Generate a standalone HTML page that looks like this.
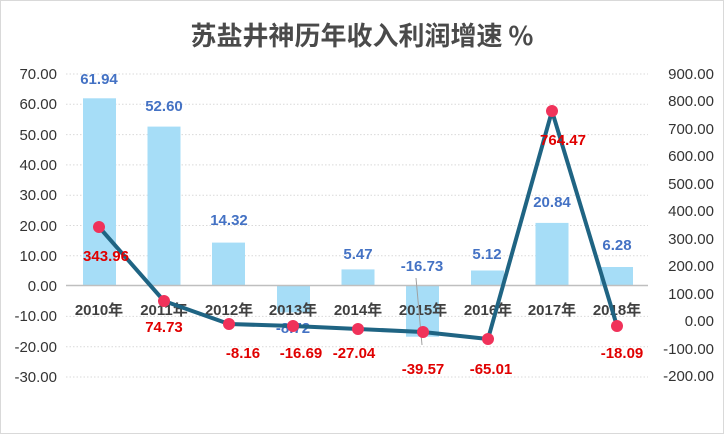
<!DOCTYPE html>
<html><head><meta charset="utf-8"><style>
html,body{margin:0;padding:0;background:#fff}
svg{display:block;font-family:"Liberation Sans","Noto Sans CJK SC",sans-serif}
</style></head><body>
<svg width="724" height="434" viewBox="0 0 724 434">
<rect x="0.5" y="0.5" width="723" height="433" fill="#fff" stroke="#d9d9d9"/>
<text x="362" y="45" text-anchor="middle" font-size="26" font-weight="bold" fill="#4a4a4a" font-family="'Noto Sans CJK SC',sans-serif">苏盐井神历年收入利润增速 %</text>
<g stroke="#d9d9d9" stroke-width="1" stroke-dasharray="1.5,2">
<line x1="66" x2="648" y1="74" y2="74"/><line x1="66" x2="648" y1="104.3" y2="104.3"/>
<line x1="66" x2="648" y1="134.6" y2="134.6"/><line x1="66" x2="648" y1="164.9" y2="164.9"/>
<line x1="66" x2="648" y1="195.2" y2="195.2"/><line x1="66" x2="648" y1="225.5" y2="225.5"/>
<line x1="66" x2="648" y1="255.8" y2="255.8"/><line x1="66" x2="648" y1="316.4" y2="316.4"/>
<line x1="66" x2="648" y1="346.7" y2="346.7"/><line x1="66" x2="648" y1="377" y2="377"/>
</g>
<g fill="#333" font-size="15" text-anchor="end">
<text x="57" y="79">70.00</text><text x="57" y="109">60.00</text><text x="57" y="140">50.00</text>
<text x="57" y="170">40.00</text><text x="57" y="200">30.00</text><text x="57" y="231">20.00</text>
<text x="57" y="261">10.00</text><text x="57" y="291">0.00</text><text x="57" y="321">-10.00</text>
<text x="57" y="352">-20.00</text><text x="57" y="382">-30.00</text>
</g>
<g fill="#333" font-size="15" text-anchor="end">
<text x="714" y="79">900.00</text><text x="714" y="106">800.00</text><text x="714" y="134">700.00</text>
<text x="714" y="161">600.00</text><text x="714" y="189">500.00</text><text x="714" y="216">400.00</text>
<text x="714" y="244">300.00</text><text x="714" y="271">200.00</text><text x="714" y="299">100.00</text>
<text x="714" y="326">0.00</text><text x="714" y="354">-100.00</text><text x="714" y="381">-200.00</text>
</g>
<g fill="#a6ddf7">
<rect x="83" y="98.3" width="33" height="187.7"/>
<rect x="147.5" y="126.6" width="33" height="159.4"/>
<rect x="212" y="242.6" width="33" height="43.4"/>
<rect x="277" y="286" width="33" height="26.4"/>
<rect x="341.5" y="269.4" width="33" height="16.6"/>
<rect x="406" y="286" width="33" height="50.7"/>
<rect x="471" y="270.5" width="33" height="15.5"/>
<rect x="535.5" y="222.9" width="33" height="63.1"/>
<rect x="600" y="267" width="33" height="19"/>
</g>
<line x1="66" x2="648" y1="285.5" y2="285.5" stroke="#bfbfbf" stroke-width="1.5"/>
<g fill="#404040" font-size="15" font-weight="bold" text-anchor="middle">
<text x="99" y="315">2010年</text><text x="164" y="315">2011年</text><text x="229" y="315">2012年</text>
<text x="293" y="315">2013年</text><text x="358" y="315">2014年</text><text x="423" y="315">2015年</text>
<text x="488" y="315">2016年</text><text x="552" y="315">2017年</text><text x="617" y="315">2018年</text>
</g>
<g fill="#4472c4" font-size="15" font-weight="bold" text-anchor="middle">
<text x="99" y="84">61.94</text><text x="164" y="111">52.60</text><text x="229" y="225">14.32</text>
<text x="293" y="333">-8.72</text><text x="358" y="259">5.47</text><text x="422" y="271">-16.73</text>
<text x="487" y="259">5.12</text><text x="552" y="207">20.84</text><text x="617" y="250">6.28</text>
</g>
<line x1="416" y1="278" x2="422" y2="345" stroke="#a0a0a0" stroke-width="1"/>
<polyline fill="none" stroke="#1f6483" stroke-width="4" stroke-linejoin="round"
points="99,227 164,301 229,324 293,326 358,329 423,332 488,339 552,111 617,326"/>
<g fill="#f0325a">
<circle cx="99" cy="227" r="6"/><circle cx="164" cy="301" r="6"/><circle cx="229" cy="324" r="6"/>
<circle cx="293" cy="326" r="6"/><circle cx="358" cy="329" r="6"/><circle cx="423" cy="332" r="6"/>
<circle cx="488" cy="339" r="6"/><circle cx="552" cy="111" r="6"/><circle cx="617" cy="326" r="6"/>
</g>
<g fill="#e00000" font-size="15" font-weight="bold" text-anchor="middle">
<text x="106" y="261">343.96</text><text x="164" y="332">74.73</text><text x="243" y="358">-8.16</text>
<text x="301" y="358">-16.69</text><text x="354" y="358">-27.04</text><text x="423" y="374">-39.57</text>
<text x="491" y="374">-65.01</text><text x="563" y="145">764.47</text><text x="622" y="358">-18.09</text>
</g>
</svg>
</body></html>
